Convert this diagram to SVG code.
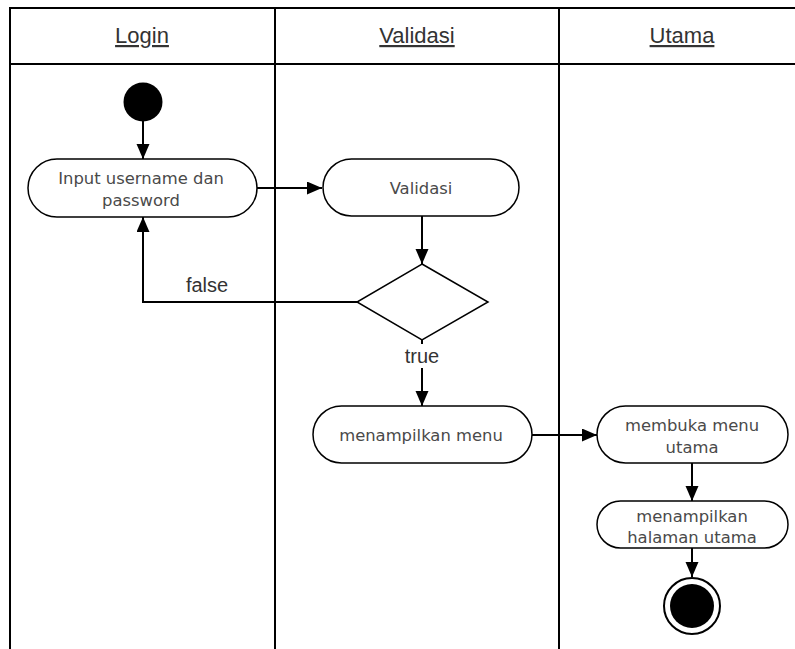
<svg xmlns="http://www.w3.org/2000/svg" width="795" height="649" viewBox="0 0 795 649">
<defs>
<marker id="arr" markerUnits="userSpaceOnUse" markerWidth="16" markerHeight="14" refX="15" refY="6.5" orient="auto">
<path d="M0,0 L15,6.5 L0,13 z" fill="#000"/>
</marker>
<style>
.lane{stroke:#000;stroke-width:2;fill:none}
.hdr{font-family:"Liberation Sans",Arial,sans-serif;font-size:22px;fill:#333;text-anchor:middle;text-decoration:underline}
.box{fill:#fff;stroke:#000;stroke-width:1.5}
.txt{font-family:"DejaVu Sans",Verdana,sans-serif;font-size:16.4px;fill:#4a4a4a;text-anchor:middle}
.lbl{font-family:"Liberation Sans",Arial,sans-serif;font-size:20px;fill:#333;text-anchor:middle}
.edge{stroke:#000;stroke-width:2;fill:none}
</style>
</defs>
<rect width="795" height="649" fill="#fff"/>
<g id="lanes">
<path class="lane" d="M10,649 V8 H800 M10,64 H800 M275,8 V649 M559,8 V649"/>
<text class="hdr" x="142" y="43">Login</text>
<text class="hdr" x="417" y="43">Validasi</text>
<text class="hdr" x="682" y="43">Utama</text>
</g>
<g id="connectors">
<path class="edge" d="M143,121 V159" marker-end="url(#arr)"/>
<path class="edge" d="M257,188 H322" marker-end="url(#arr)"/>
<path class="edge" d="M422,216 V264" stroke-width="3" marker-end="url(#arr)"/>
<path class="edge" d="M357,302 H143 V217" marker-end="url(#arr)"/>
<path class="edge" d="M422,340 V344 M422,368 V406" marker-end="url(#arr)"/>
<path class="edge" d="M532,435 H597" marker-end="url(#arr)"/>
<path class="edge" d="M692,463 V501" marker-end="url(#arr)"/>
<path class="edge" d="M692,548 V577" marker-end="url(#arr)"/>
<text class="lbl" x="207" y="292">false</text>
<text class="lbl" x="422" y="363">true</text>
</g>
<g id="start"><circle cx="143" cy="102" r="19.5" fill="#000"/></g>
<g id="input">
<rect class="box" x="28" y="159" width="229" height="58" rx="29"/>
<text class="txt" x="141" y="184">Input username dan</text>
<text class="txt" x="141" y="206">password</text>
</g>
<g id="validasi">
<rect class="box" x="323" y="159" width="196" height="57" rx="28.5"/>
<text class="txt" x="421" y="194">Validasi</text>
</g>
<g id="decision">
<polygon class="box" points="422,264 488,302 422,340 357,302"/>
</g>
<g id="menampilkan-menu">
<rect class="box" x="313" y="406" width="219" height="57" rx="28.5"/>
<text class="txt" x="421" y="441">menampilkan menu</text>
</g>
<g id="membuka-menu">
<rect class="box" x="597" y="406" width="191" height="57" rx="28.5"/>
<text class="txt" x="692" y="431">membuka menu</text>
<text class="txt" x="692" y="453">utama</text>
</g>
<g id="halaman-utama">
<rect class="box" x="597" y="501" width="191" height="47" rx="23.5"/>
<text class="txt" x="692" y="522">menampilkan</text>
<text class="txt" x="692" y="543">halaman utama</text>
</g>
<g id="end">
<circle cx="692" cy="606" r="28" fill="#fff" stroke="#000" stroke-width="2"/>
<circle cx="692" cy="606" r="22" fill="#000"/>
</g>
</svg>
